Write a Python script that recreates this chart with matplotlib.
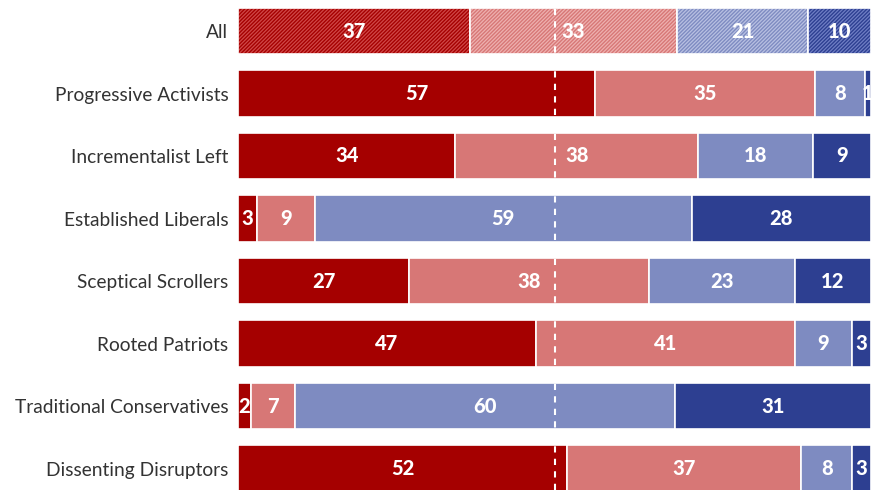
import matplotlib.pyplot as plt
import numpy as np

groups = ["All", "Progressive Activists", "Incrementalist Left", "Established Liberals",
          "Sceptical Scrollers", "Rooted Patriots", "Traditional Conservatives",
          "Dissenting Disruptors"]
strongly_a = [37, 57, 34, 3, 27, 47, 2, 52]
somewhat_a = [33, 35, 38, 9, 38, 41, 7, 37]
somewhat_b = [21, 8, 18, 59, 23, 9, 60, 8]
strongly_b = [10, 1, 9, 28, 12, 3, 31, 3]

colors = ["#a50000", "#d77776", "#7e8bc1", "#2d3f91"]
hatch_colors = ["#d04848", "#eeb0af", "#b8c0e2", "#6f7ec4"]

plt.rcParams["font.family"] = ["Lato", "DejaVu Sans"]
plt.rcParams["hatch.linewidth"] = 0.9

fig = plt.figure(figsize=(8.71, 4.90), dpi=100)
ax = fig.add_axes([238 / 871, 0, 633 / 871, 1])

y = np.arange(len(groups))
series = np.array([strongly_a, somewhat_a, somewhat_b, strongly_b], dtype=float)
# rounded shares: scale each row so its segments fill 100
widths = series / series.sum(axis=0) * 100

left = np.zeros(len(groups))
for vals, w, col, hcol in zip(series, widths, colors, hatch_colors):
    # first row is the overall average, drawn hatched
    ax.barh(y[0], w[0], left=left[0], height=0.75, color=col,
            edgecolor=hcol, linewidth=0, hatch="/" * 9)
    ax.barh(y[1:], w[1:], left=left[1:], height=0.75, color=col, linewidth=0)
    ax.barh(y, w, left=left, height=0.75, facecolor="none",
            edgecolor="white", linewidth=1.2)
    for yi, v, wi, l in zip(y, vals, w, left):
        ax.text(l + wi / 2, yi, f"{int(v)}", ha="center", va="center",
                color="white", fontsize=14.5, fontweight="black")
    left += w

ax.axvline(50, color="white", linestyle=(0, (3, 3)), linewidth=1.5, zorder=1.5)

ax.set_xlim(0, 100)
ax.set_ylim(7.344, -0.496)
ax.set_yticks(y)
ax.set_yticklabels(groups, fontsize=13.8, color="#333333")
ax.tick_params(axis="y", length=0, pad=7)
ax.set_xticks([])
for s in ax.spines.values():
    s.set_visible(False)

fig.savefig("out.png", dpi=100)
